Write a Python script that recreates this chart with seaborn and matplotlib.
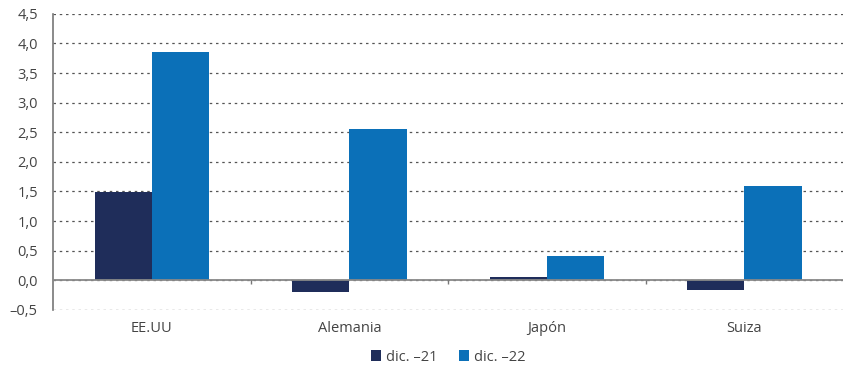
import matplotlib
matplotlib.use("Agg")
import matplotlib.pyplot as plt
import pandas as pd
import seaborn as sns

# Data
paises = ["EE.UU", "Alemania", "Japón", "Suiza"]
dic21 = [1.49, -0.19, 0.06, -0.16]
dic22 = [3.85, 2.55, 0.41, 1.59]
series = ["dic. \u201321", "dic. \u201322"]
colores = ["#1f2d5a", "#0b70b8"]

df = pd.DataFrame({
    "pais": paises * 2,
    "valor": dic21 + dic22,
    "serie": [series[0]] * len(paises) + [series[1]] * len(paises),
})

sns.set_style("white")
plt.rcParams["font.family"] = ["Open Sans", "DejaVu Sans"]

fig = plt.figure(figsize=(8.43, 3.65), dpi=100)
ax = fig.add_axes([0.063, 0.151, 0.937, 0.811])

sns.barplot(data=df, x="pais", y="valor", hue="serie", palette=colores,
            width=0.58, saturation=1, errorbar=None, linewidth=0,
            ax=ax, zorder=3)

ax.set_ylim(-0.5, 4.5)
ax.set_xlim(-0.5, len(paises) - 0.5)
ax.set_yticks([i * 0.5 for i in range(-1, 10)])
ax.set_yticklabels([f"{v:.1f}".replace(".", ",").replace("-", "\u2013")
                    for v in ax.get_yticks()], fontsize=10.5, color="#444444")
ax.tick_params(axis="y", length=5, width=1, color="#666666", pad=6)
ax.tick_params(axis="x", length=0, labelsize=10.5, labelcolor="#444444", pad=8)

ax.yaxis.grid(True, linestyle=(0, (2, 3)), color="#555555", linewidth=0.9)
ax.set_axisbelow(True)
for s in ["top", "right", "bottom"]:
    ax.spines[s].set_visible(False)
ax.spines["left"].set_color("#777777")
ax.spines["left"].set_linewidth(1.2)

ax.axhline(0, color="#888888", linewidth=1.3, zorder=4)
ax.vlines([i + 0.5 for i in range(len(paises) - 1)], -0.07, 0,
          color="#777777", linewidth=1, zorder=4)

ax.set_xlabel("")
ax.set_ylabel("")
ax.legend(loc="upper center", bbox_to_anchor=(0.5, -0.09), ncol=2,
          frameon=False, fontsize=10.5, handlelength=0.7, handleheight=0.7,
          handletextpad=0.3, columnspacing=1.5, labelcolor="#444444")

plt.savefig("out.png", dpi=100)
